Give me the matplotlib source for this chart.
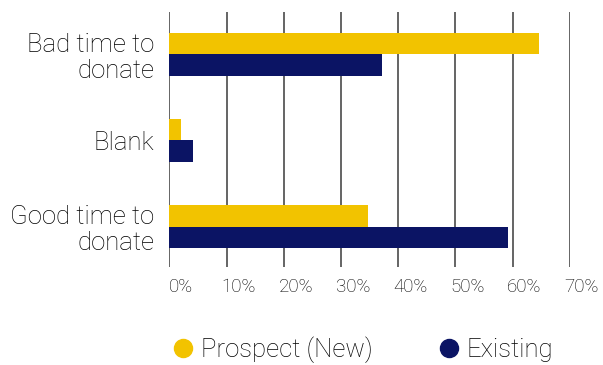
import matplotlib.pyplot as plt
import matplotlib.transforms as mtransforms
from matplotlib.lines import Line2D
import numpy as np

# survey answers, share of respondents (%)
categories = ["Bad time to\ndonate", "Blank", "Good time to\ndonate"]
prospect = [64.6, 2.0, 34.8]
existing = [37.2, 4.2, 59.2]
series_names = ["Prospect (New)", "Existing"]
ticks = [0, 10, 20, 30, 40, 50, 60, 70]
tick_labels = ["0%", "10%", "20%", "30%", "40%", "50%", "60%", "70%"]

yellow = "#F2C300"
navy = "#0B1464"
text_col = "#000000"

plt.rcParams["font.family"] = ["Roboto", "DejaVu Sans"]
plt.rcParams["font.weight"] = "light"

fig = plt.figure(figsize=(6.03, 3.65), dpi=100)
ax = fig.add_axes([0.2808, 0.2685, 0.9448 - 0.2808, 0.9671 - 0.2685])

y = np.arange(len(categories))
h = 0.25
ax.barh(y - h / 2, prospect, height=h, color=yellow, zorder=3)
ax.barh(y + h / 2, existing, height=h, color=navy, zorder=3)

ax.set_xlim(0, 70)
ax.set_ylim(2.47, -0.49)
ax.set_xticks(ticks)
ax.set_xticklabels(tick_labels, fontsize=13.5, color=text_col)
ax.set_yticks(y)
ax.set_yticklabels(categories, fontsize=18.5, color=text_col, linespacing=1.1)
ax.tick_params(axis="both", length=0)
ax.tick_params(axis="x", pad=8)
ax.tick_params(axis="y", pad=11)

# nudge the percent labels a little right of their gridlines
offset = mtransforms.ScaledTranslation(0.12, 0, fig.dpi_scale_trans)
for lbl in ax.get_xticklabels():
    lbl.set_transform(lbl.get_transform() + offset)

for s in ax.spines.values():
    s.set_visible(False)
for t in ticks:
    ax.axvline(t, color="#3a3a3a", lw=1.1, zorder=1)

handles = [Line2D([], [], marker="o", ls="", markersize=13, color=c)
           for c in (yellow, navy)]
fig.legend(handles, series_names, loc="center", bbox_to_anchor=(0.6, 0.041),
           ncol=2, frameon=False, fontsize=18.5, handletextpad=0.2,
           columnspacing=2.45, handlelength=1.0,
           labelcolor=text_col)

fig.savefig("out.png", dpi=100)
